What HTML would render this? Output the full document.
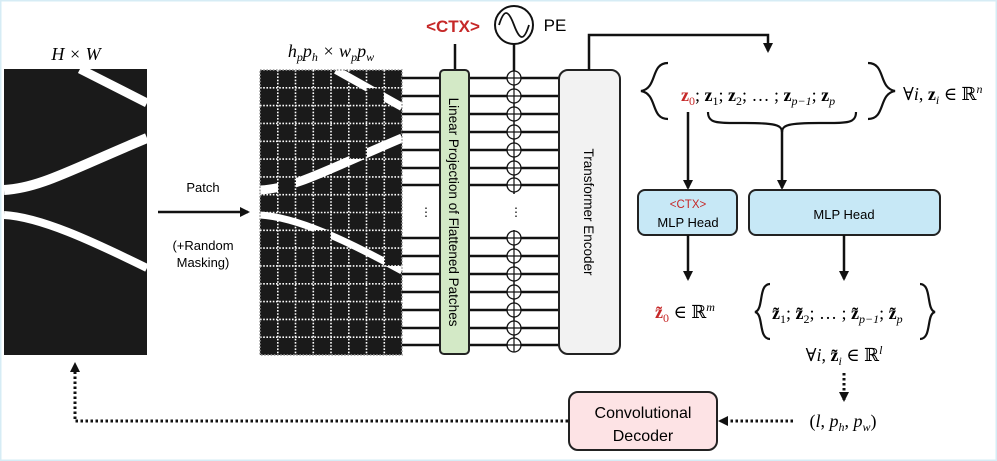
<!DOCTYPE html>
<html><head><meta charset="utf-8"><style>
html,body{margin:0;padding:0;background:#fff}
svg{display:block}
text{font-family:"Liberation Sans","DejaVu Sans",sans-serif}
text.m{font-family:"Liberation Serif","DejaVu Serif",serif;font-style:italic}
text.s{font-family:"Liberation Serif","DejaVu Serif",serif}
</style></head><body>
<svg width="997" height="461" viewBox="0 0 997 461" xmlns="http://www.w3.org/2000/svg">
<defs>
<marker id="ah" markerWidth="10" markerHeight="10" refX="8" refY="5" orient="auto" markerUnits="userSpaceOnUse"><path d="M0,0 L10,5 L0,10 z" fill="#111"/></marker>
<clipPath id="cp"><rect x="260" y="70" width="142" height="285"/></clipPath>
</defs>
<rect x="0.5" y="0.5" width="996" height="460" fill="#fff" stroke="#d6ecf5" stroke-width="2"/>

<!-- left image -->
<text x="76" y="60" class="m" font-size="18" text-anchor="middle">H × W</text>
<rect x="4" y="69" width="143" height="286" fill="#1a1a1a"/>
<path d="M80,69 L147,103" stroke="#fff" stroke-width="9"/>
<path d="M4,190 C40,188 70,170 147,138" stroke="#fff" stroke-width="10" fill="none"/>
<path d="M4,215 C40,217 90,240 147,268" stroke="#fff" stroke-width="8" fill="none"/>

<!-- patch arrow -->
<text x="203" y="192" font-size="13" text-anchor="middle">Patch</text>
<line x1="158" y1="212" x2="248" y2="212" stroke="#111" stroke-width="2.5" marker-end="url(#ah)"/>
<text x="203" y="250" font-size="13" text-anchor="middle">(+Random</text>
<text x="203" y="267" font-size="13" text-anchor="middle">Masking)</text>

<!-- patched image -->
<text x="331" y="57" class="m" font-size="18" text-anchor="middle">h<tspan font-size="12" dy="4">p</tspan><tspan dy="-4">p</tspan><tspan font-size="12" dy="4">h</tspan><tspan dy="-4"> × w</tspan><tspan font-size="12" dy="4">p</tspan><tspan dy="-4">p</tspan><tspan font-size="12" dy="4">w</tspan></text>
<g clip-path="url(#cp)">
<rect x="260" y="70" width="142" height="285" fill="#1a1a1a"/>
<path d="M336,70 L402,107" stroke="#fff" stroke-width="8"/>
<path d="M260,190 C296,188 326,170 402,138" stroke="#fff" stroke-width="9" fill="none"/>
<path d="M260,215 C296,217 346,240 402,271" stroke="#fff" stroke-width="7" fill="none"/>
<g fill="#1a1a1a">
<rect x="366" y="88" width="18" height="18"/><rect x="384" y="70" width="18" height="18"/>
<rect x="349" y="141" width="18" height="18"/><rect x="278" y="177" width="18" height="18"/>
<rect x="313" y="230" width="18" height="18"/><rect x="384" y="248" width="18" height="18"/>
</g>
<g stroke="#fff" stroke-width="1.6" stroke-dasharray="1.6,1.6" fill="none">
<path d="M277.8,70V355M295.5,70V355M313.3,70V355M331,70V355M348.8,70V355M366.5,70V355M384.3,70V355"/>
<path d="M260,87.8H402M260,105.6H402M260,123.4H402M260,141.3H402M260,159.1H402M260,176.9H402M260,194.7H402M260,212.5H402M260,230.3H402M260,248.1H402M260,265.9H402M260,283.8H402M260,301.6H402M260,319.4H402M260,337.2H402"/>
</g>
</g>
<rect x="260" y="70" width="142" height="285" fill="none" stroke="#999" stroke-width="1.5" stroke-dasharray="1.6,1.6"/>

<!-- token lines -->
<g stroke="#111" stroke-width="2.5">
<path d="M402,78H560M402,96H560M402,114H560M402,132H560M402,150H560M402,168H560M402,185H560M402,238H560M402,256H560M402,274H560M402,292H560M402,310H560M402,328H560M402,345H560"/>
<line x1="455" y1="44" x2="455" y2="70"/>
<line x1="514" y1="44" x2="514" y2="78"/>
<line x1="514" y1="78" x2="514" y2="345" stroke-width="1.5"/>
</g>
<rect x="500" y="194" width="28" height="36" fill="#fff"/>
<g fill="#fff" stroke="#111" stroke-width="1.3">
<circle cx="514" cy="78" r="7"/><circle cx="514" cy="96" r="7"/><circle cx="514" cy="114" r="7"/><circle cx="514" cy="132" r="7"/><circle cx="514" cy="150" r="7"/><circle cx="514" cy="168" r="7"/><circle cx="514" cy="185" r="7"/>
<circle cx="514" cy="238" r="7"/><circle cx="514" cy="256" r="7"/><circle cx="514" cy="274" r="7"/><circle cx="514" cy="292" r="7"/><circle cx="514" cy="310" r="7"/><circle cx="514" cy="328" r="7"/><circle cx="514" cy="345" r="7"/>
</g>
<g stroke="#111" stroke-width="1.2">
<path d="M507,78H521M514,71V85M507,96H521M514,89V103M507,114H521M514,107V121M507,132H521M514,125V139M507,150H521M514,143V157M507,168H521M514,161V175M507,185H521M514,178V192"/>
<path d="M507,238H521M514,231V245M507,256H521M514,249V263M507,274H521M514,267V281M507,292H521M514,285V299M507,310H521M514,303V317M507,328H521M514,321V335M507,345H521M514,338V352"/>
</g>
<text x="420" y="216" font-size="12">⋮</text>
<text x="510" y="216" font-size="12">⋮</text>

<!-- linear projection box -->
<rect x="440" y="70" width="29" height="284" rx="4" fill="#d3e9c6" stroke="#222" stroke-width="2"/>
<text transform="translate(449,212) rotate(90)" font-size="13.5" text-anchor="middle">Linear Projection of Flattened Patches</text>

<!-- CTX / PE -->
<text x="453" y="32" font-size="17" fill="#c62828" font-weight="bold" text-anchor="middle">&lt;CTX&gt;</text>
<circle cx="514" cy="25" r="19" fill="#fff" stroke="#111" stroke-width="2"/>
<path d="M499,25 C504,9 508,9 514,25 C520,41 524,41 529,25" fill="none" stroke="#111" stroke-width="1.8"/>
<text x="555" y="31" font-size="17" text-anchor="middle">PE</text>

<!-- transformer -->
<rect x="559" y="70" width="61" height="284" rx="9" fill="#f2f2f2" stroke="#222" stroke-width="2"/>
<text transform="translate(584,212) rotate(90)" font-size="13.5" text-anchor="middle">Transformer Encoder</text>
<path d="M589,70 V35 H768 V51" fill="none" stroke="#111" stroke-width="2.5" marker-end="url(#ah)"/>

<!-- z set -->
<path d="M668,63 C650,63 658,88 641,91 C658,94 650,119 668,119" fill="none" stroke="#111" stroke-width="2.2"/>
<path d="M868,63 C886,63 878,88 895,91 C878,94 886,119 868,119" fill="none" stroke="#111" stroke-width="2.2"/>
<text x="681" y="101" font-size="18" class="s"><tspan fill="#c62828" font-weight="bold">z</tspan><tspan fill="#c62828" font-size="12" dy="4">0</tspan><tspan dy="-4">; </tspan><tspan font-weight="bold">z</tspan><tspan font-size="12" dy="4">1</tspan><tspan dy="-4">; </tspan><tspan font-weight="bold">z</tspan><tspan font-size="12" dy="4">2</tspan><tspan dy="-4">; … ; </tspan><tspan font-weight="bold">z</tspan><tspan font-size="12" dy="4" font-style="italic">p−1</tspan><tspan dy="-4">; </tspan><tspan font-weight="bold">z</tspan><tspan font-size="12" dy="4" font-style="italic">p</tspan></text>
<text x="903" y="100" font-size="18" class="s">∀<tspan font-style="italic">i</tspan>, <tspan font-weight="bold">z</tspan><tspan font-size="12" dy="4" font-style="italic">i</tspan><tspan dy="-4"> ∈ ℝ</tspan><tspan font-size="12" dy="-7" font-style="italic">n</tspan></text>
<path d="M708,112 C708,124 718,123 745,123 C775,123 782,125 782,132 C782,125 789,123 819,123 C846,123 856,124 856,112" fill="none" stroke="#111" stroke-width="2.2"/>
<line x1="688" y1="112" x2="688" y2="188" stroke="#111" stroke-width="2.5" marker-end="url(#ah)"/>
<line x1="782" y1="130" x2="782" y2="188" stroke="#111" stroke-width="2.5" marker-end="url(#ah)"/>

<!-- MLP heads -->
<rect x="638" y="190" width="99" height="45" rx="7" fill="#c7e8f6" stroke="#222" stroke-width="2"/>
<text x="688" y="208" font-size="11.5" fill="#c62828" text-anchor="middle">&lt;CTX&gt;</text>
<text x="688" y="227" font-size="13" text-anchor="middle">MLP Head</text>
<rect x="749" y="190" width="191" height="45" rx="7" fill="#c7e8f6" stroke="#222" stroke-width="2"/>
<text x="844" y="219" font-size="13" text-anchor="middle">MLP Head</text>
<line x1="688" y1="235" x2="688" y2="279" stroke="#111" stroke-width="2.5" marker-end="url(#ah)"/>
<line x1="844" y1="235" x2="844" y2="279" stroke="#111" stroke-width="2.5" marker-end="url(#ah)"/>

<text x="655" y="318" font-size="18" class="s"><tspan fill="#c62828" font-weight="bold">z̃</tspan><tspan fill="#c62828" font-size="12" dy="4">0</tspan><tspan dy="-4"> ∈ ℝ</tspan><tspan font-size="12" dy="-7" font-style="italic">m</tspan></text>
<path d="M770,284 C758,284 764,310 755,312 C764,314 758,339 770,339" fill="none" stroke="#111" stroke-width="2.2"/>
<path d="M920,284 C932,284 926,310 935,312 C926,314 932,339 920,339" fill="none" stroke="#111" stroke-width="2.2"/>
<text x="772" y="319" font-size="18" class="s"><tspan font-weight="bold">z̃</tspan><tspan font-size="12" dy="4">1</tspan><tspan dy="-4">; </tspan><tspan font-weight="bold">z̃</tspan><tspan font-size="12" dy="4">2</tspan><tspan dy="-4">; … ; </tspan><tspan font-weight="bold">z̃</tspan><tspan font-size="12" dy="4" font-style="italic">p−1</tspan><tspan dy="-4">; </tspan><tspan font-weight="bold">z̃</tspan><tspan font-size="12" dy="4" font-style="italic">p</tspan></text>
<text x="844" y="361" font-size="18" class="s" text-anchor="middle">∀<tspan font-style="italic">i</tspan>, <tspan font-weight="bold">z̃</tspan><tspan font-size="12" dy="4" font-style="italic">i</tspan><tspan dy="-4"> ∈ ℝ</tspan><tspan font-size="12" dy="-7" font-style="italic">l</tspan></text>
<line x1="844" y1="373" x2="844" y2="400" stroke="#111" stroke-width="3" stroke-dasharray="2.5,2.5" marker-end="url(#ah)"/>
<text x="843" y="427" font-size="18" class="s" text-anchor="middle">(<tspan font-style="italic">l</tspan>, <tspan font-style="italic">p</tspan><tspan font-size="12" dy="4" font-style="italic">h</tspan><tspan dy="-4">, </tspan><tspan font-style="italic">p</tspan><tspan font-size="12" dy="4" font-style="italic">w</tspan><tspan dy="-4">)</tspan></text>

<!-- decoder -->
<line x1="793" y1="421" x2="720" y2="421" stroke="#111" stroke-width="3" stroke-dasharray="2.5,2.5" marker-end="url(#ah)"/>
<rect x="569" y="392" width="148" height="58" rx="9" fill="#fde3e5" stroke="#222" stroke-width="2"/>
<text x="643" y="418" font-size="16" text-anchor="middle">Convolutional</text>
<text x="643" y="441" font-size="16" text-anchor="middle">Decoder</text>
<path d="M568,421 H75 V364" fill="none" stroke="#111" stroke-width="3" stroke-dasharray="2.5,2.5" marker-end="url(#ah)"/>
</svg>
</body></html>
